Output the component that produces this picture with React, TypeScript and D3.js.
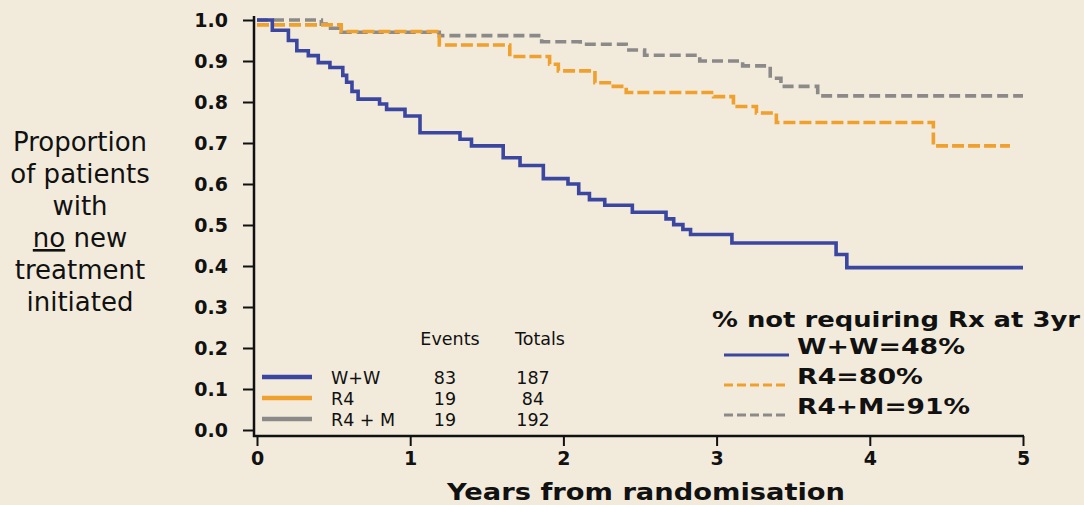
import { useEffect, useRef } from "react"
import * as d3 from "d3"

// Kaplan-Meier step data (years, proportion)
const wwTimes = [0, 0.1, 0.205, 0.26, 0.335, 0.4, 0.476, 0.56, 0.585, 0.62, 0.66, 0.8, 0.846, 0.966, 1.064, 1.325, 1.4, 1.607, 1.717, 1.869, 2.03, 2.1, 2.17, 2.27, 2.45, 2.67, 2.72, 2.78, 2.83, 3.1, 3.78, 3.85, 5.0]
const wwSurv = [1.0, 0.975, 0.95, 0.925, 0.913, 0.896, 0.884, 0.865, 0.848, 0.826, 0.807, 0.795, 0.782, 0.766, 0.725, 0.709, 0.693, 0.664, 0.645, 0.613, 0.6, 0.577, 0.562, 0.548, 0.531, 0.515, 0.501, 0.489, 0.477, 0.456, 0.428, 0.396, 0.396]

const r4Times = [0, 0.55, 1.19, 1.65, 1.91, 1.967, 2.206, 2.3, 2.41, 2.98, 3.11, 3.26, 3.39, 4.415, 4.915]
const r4Surv = [0.988, 0.972, 0.939, 0.911, 0.892, 0.876, 0.847, 0.838, 0.823, 0.813, 0.789, 0.773, 0.75, 0.693, 0.693]

const r4mTimes = [0, 0.42, 0.48, 0.55, 1.19, 1.858, 2.11, 2.41, 2.53, 2.89, 3.17, 3.35, 3.42, 3.66, 5.0]
const r4mSurv = [1.0, 0.99, 0.98, 0.97, 0.962, 0.947, 0.941, 0.927, 0.914, 0.9, 0.888, 0.858, 0.838, 0.815, 0.815]

const yTicks = [0, 0.1, 0.2, 0.3, 0.4, 0.5, 0.6, 0.7, 0.8, 0.9, 1.0]
const xTicks = [0, 1, 2, 3, 4, 5]

const tableRows = ["W+W", "R4", "R4 + M"]
const tableEvents = [83, 19, 19]
const tableTotals = [187, 84, 192]
const summaryLabels = ["W+W=48%", "R4=80%", "R4+M=91%"]

const colors = ["#3b46a0", "#f0a02c", "#8c8a88"]
const dashes = [null, "12,4", "11,5"]
const legendDashes = [null, "9,4", "9,4"]
const summaryWidths = [168, 126, 173]

const FONT = "'DejaVu Sans', Verdana, sans-serif"
const W = 1084
const H = 505

export default function App() {
    const yAxisRef = useRef<SVGGElement>(null)
    const xAxisRef = useRef<SVGGElement>(null)

    const x = d3.scaleLinear().domain([0, 5]).range([257, 1023])
    const y = d3.scaleLinear().domain([0, 1]).range([430, 20])

    const series = [
        { t: wwTimes, s: wwSurv },
        { t: r4Times, s: r4Surv },
        { t: r4mTimes, s: r4mSurv },
    ]

    const line = d3.line<[number, number]>()
        .x(d => x(d[0]))
        .y(d => y(d[1]))
        .curve(d3.curveStepAfter)

    useEffect(() => {
        const gy = d3.select(yAxisRef.current)
        gy.selectAll("*").remove()
        gy.call(d3.axisLeft(y).tickValues(yTicks).tickSize(11).tickPadding(15).tickFormat(d3.format(".1f")) as any)
        gy.select(".domain").remove()
        gy.selectAll("line").attr("stroke", "#111").attr("stroke-width", 2)
        gy.selectAll("text").attr("font-family", FONT).attr("font-size", 19).attr("font-weight", "bold").attr("fill", "#111")

        const gx = d3.select(xAxisRef.current)
        gx.selectAll("*").remove()
        gx.call(d3.axisBottom(x).tickValues(xTicks).tickSize(10).tickPadding(6).tickFormat(d3.format("d")) as any)
        gx.select(".domain").remove()
        gx.selectAll("line").attr("stroke", "#111").attr("stroke-width", 2)
        gx.selectAll("text").attr("font-family", FONT).attr("font-size", 19).attr("font-weight", "bold").attr("fill", "#111")
    }, [])

    const yLabel = ["Proportion", "of patients", "with", null, "treatment", "initiated"]

    return (
        <svg width={W} height={H} style={{ position: "absolute", left: 0, top: 0, background: "#f2ebdc" }}>
            <rect width={W} height={H} fill="#f2ebdc" />

            {/* y label */}
            <text fontFamily={FONT} fontSize={26} fill="#111" textAnchor="middle">
                {yLabel.map((l, i) => (
                    <tspan key={i} x={80} y={151 + i * 32}>
                        {l === null ? (<><tspan textDecoration="underline">no</tspan> new</>) : l}
                    </tspan>
                ))}
            </text>

            {/* axes */}
            <line x1={254} x2={254} y1={16} y2={437} stroke="#111" strokeWidth={2.5} />
            <line x1={253} x2={1024} y1={436} y2={436} stroke="#111" strokeWidth={2.5} />
            <g ref={yAxisRef} transform="translate(254,0)" />
            <g ref={xAxisRef} transform="translate(0,436)" />

            {/* curves: grey, orange, blue on top */}
            {[2, 1, 0].map(i => (
                <path key={i}
                    d={line(series[i].t.map((t, j) => [t, series[i].s[j]] as [number, number])) || ""}
                    fill="none"
                    stroke={colors[i]}
                    strokeWidth={3.6}
                    strokeDasharray={dashes[i] || undefined}
                    strokeLinejoin="miter"
                />
            ))}

            {/* events table legend */}
            <g fontFamily={FONT} fontSize={17.5} fill="#111">
                <text x={450} y={345} textAnchor="middle">Events</text>
                <text x={540} y={345} textAnchor="middle">Totals</text>
                {tableRows.map((r, i) => (
                    <g key={r}>
                        <line x1={262} x2={312} y1={377 + i * 21} y2={377 + i * 21} stroke={colors[i]} strokeWidth={4.5} />
                        <text x={331} y={384 + i * 21}>{r}</text>
                        <text x={445} y={384 + i * 21} textAnchor="middle">{tableEvents[i]}</text>
                        <text x={533} y={384 + i * 21} textAnchor="middle">{tableTotals[i]}</text>
                    </g>
                ))}
            </g>

            {/* summary legend */}
            <g fontFamily={FONT} fontSize={22} fontWeight="bold" fill="#111">
                <text x={712} y={327} textLength={368} lengthAdjust="spacingAndGlyphs">% not requiring Rx at 3yr</text>
                {summaryLabels.map((s, i) => (
                    <g key={s}>
                        <line x1={724} x2={789} y1={355 + i * 30} y2={355 + i * 30}
                            stroke={colors[i]} strokeWidth={3.2}
                            strokeDasharray={legendDashes[i] || undefined} />
                        <text x={797} y={354 + i * 30} textLength={summaryWidths[i]} lengthAdjust="spacingAndGlyphs">{s}</text>
                    </g>
                ))}
            </g>

            {/* x label */}
            <text x={447} y={500} fontFamily={FONT} fontSize={23} fontWeight="bold" fill="#111"
                textLength={398} lengthAdjust="spacingAndGlyphs">Years from randomisation</text>
        </svg>
    )
}
